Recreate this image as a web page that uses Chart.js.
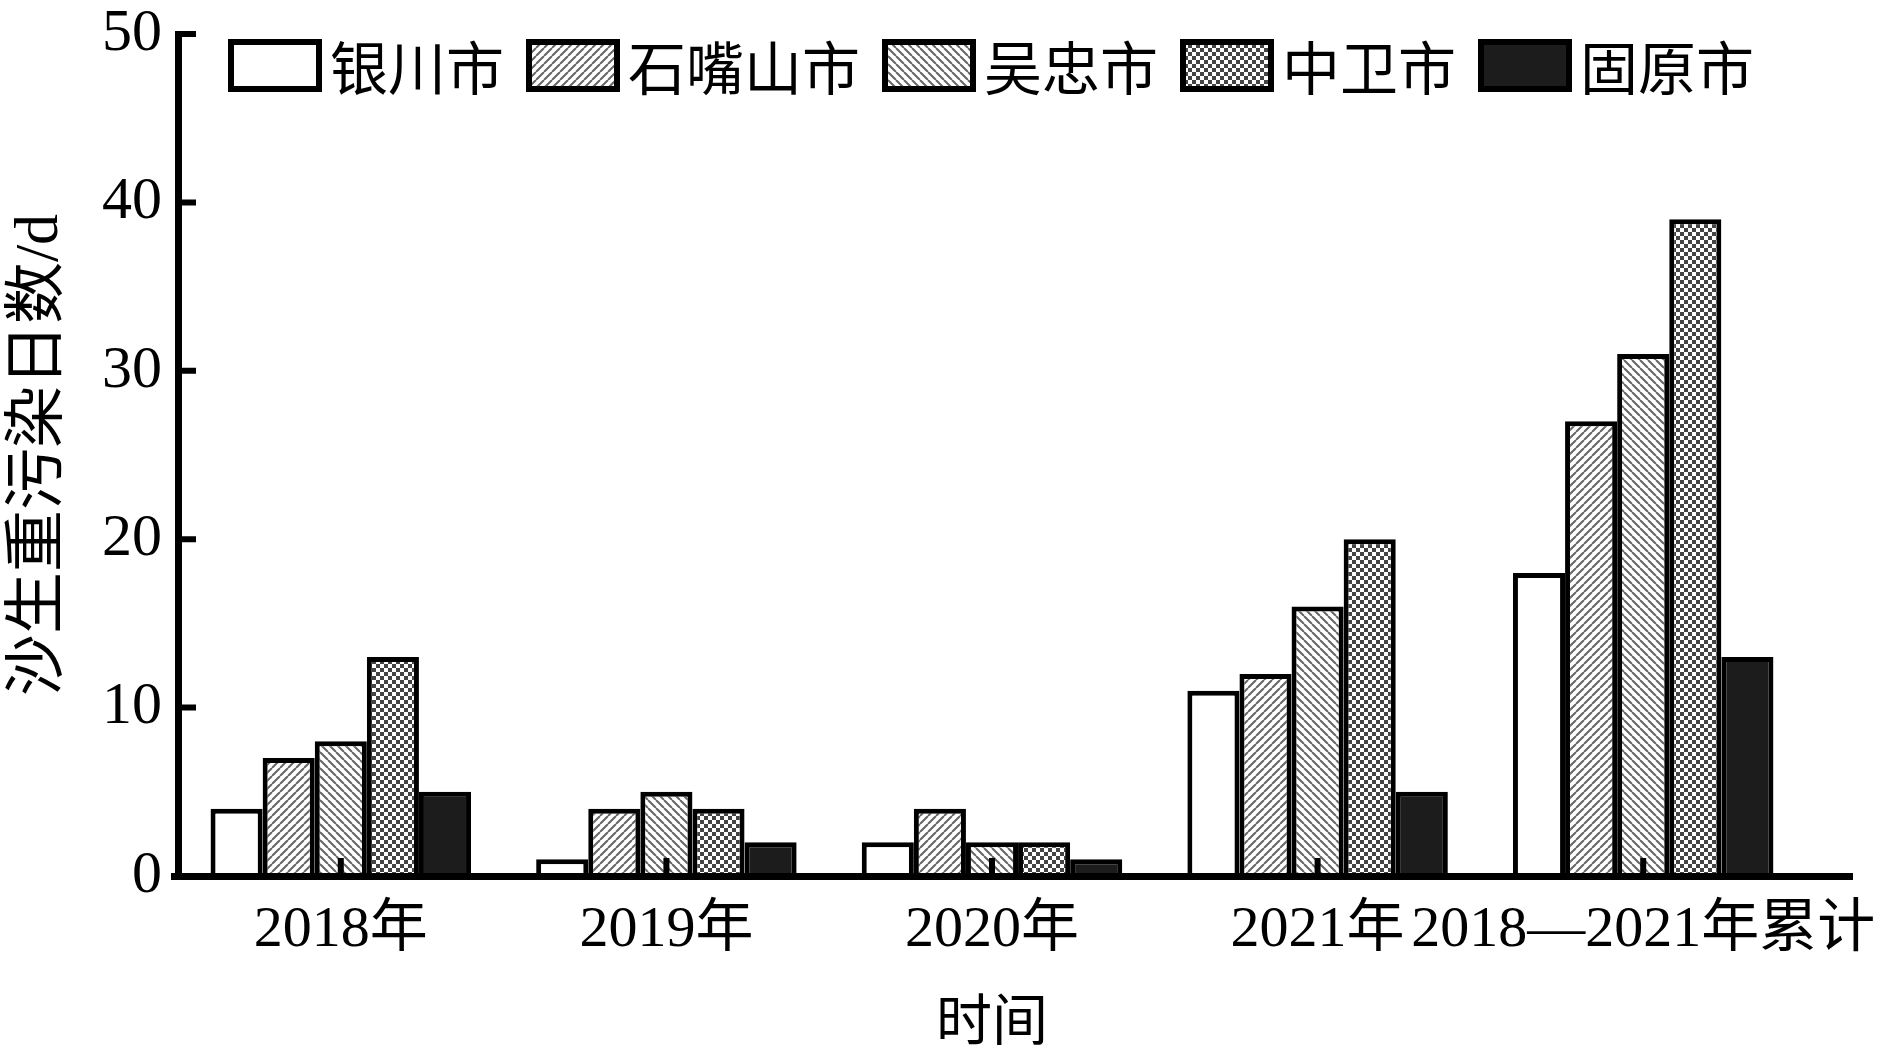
<!DOCTYPE html>
<html>
<head>
<meta charset="utf-8">
<script src="https://cdn.jsdelivr.net/npm/chart.js@4.4.0/dist/chart.umd.min.js"></script>
<style>
  html, body { margin: 0; padding: 0; background: #fff; }
  #wrap { width: 1890px; height: 1056px; }
</style>
</head>
<body>
<div id="wrap"><canvas id="chart"></canvas></div>
<script>
// categories and series (days)
const categories = ['2018年', '2019年', '2020年', '2021年', '2018—2021年累计'];
const cities = ['银川市', '石嘴山市', '吴忠市', '中卫市', '固原市'];
const yinchuan = [4, 1, 2, 11, 18];
const shizuishan = [7, 4, 4, 12, 27];
const wuzhong = [8, 5, 2, 16, 31];
const zhongwei = [13, 4, 2, 20, 39];
const guyuan = [5, 2, 1, 5, 13];
const yTicks = [0, 10, 20, 30, 40, 50];

const FONT = '"Liberation Serif", "Times New Roman", "Noto Sans CJK SC", serif';

// fill patterns
function hatch(dir) {
    const s = 8;
    const c = document.createElement('canvas');
    c.width = c.height = s;
    const g = c.getContext('2d');
    g.fillStyle = '#fff';
    g.fillRect(0, 0, s, s);
    g.strokeStyle = '#666';
    g.lineWidth = 2;
    g.beginPath();
    [-s, 0, s].forEach(k => {
        if (dir > 0) { g.moveTo(k, s); g.lineTo(k + s, 0); }
        else { g.moveTo(k, 0); g.lineTo(k + s, s); }
    });
    g.stroke();
    return g.createPattern(c, 'repeat');
}

function checker() {
    const s = 8;
    const c = document.createElement('canvas');
    c.width = c.height = s;
    const g = c.getContext('2d');
    g.fillStyle = '#fff';
    g.fillRect(0, 0, s, s);
    g.fillStyle = '#444';
    g.fillRect(0, 0, s / 2, s / 2);
    g.fillRect(s / 2, s / 2, s / 2, s / 2);
    return g.createPattern(c, 'repeat');
}

const fills = ['#ffffff', hatch(1), hatch(-1), checker(), '#1c1c1c'];
const series = [yinchuan, shizuishan, wuzhong, zhongwei, guyuan];

const datasets = cities.map((name, i) => ({
    label: name,
    data: series[i],
    backgroundColor: fills[i],
    borderColor: '#000',
    borderWidth: 5,
    borderSkipped: 'bottom',
    categoryPercentage: 0.8,
    barPercentage: 1.0
}));

// x axis line (runs a little past the last group), inward ticks, in-plot legend
const decor = {
    id: 'decor',
    afterDraw(chart) {
        const { ctx, chartArea: a, scales: { x, y } } = chart;
        const y0 = y.getPixelForValue(0);
        ctx.save();
        ctx.fillStyle = '#000';
        ctx.fillRect(a.left - 7, y0 - 3, a.right + 47 - (a.left - 7), 7);

        ctx.strokeStyle = '#000';
        ctx.lineWidth = 6;
        ctx.beginPath();
        y.ticks.forEach(t => {
            if (t.value === 0) return;
            const py = y.getPixelForValue(t.value);
            ctx.moveTo(a.left, py);
            ctx.lineTo(a.left + 18, py);
        });
        x.ticks.forEach((t, i) => {
            const px = x.getPixelForTick(i);
            ctx.moveTo(px, y0);
            ctx.lineTo(px, y0 - 18);
        });
        ctx.stroke();

        // legend
        let lx = 228;
        const top = 39, bw = 94, bh = 53;
        ctx.font = '58px "Noto Sans CJK SC", sans-serif';
        ctx.textBaseline = 'middle';
        ctx.textAlign = 'left';
        chart.data.datasets.forEach(ds => {
            ctx.fillStyle = ds.backgroundColor;
            ctx.fillRect(lx, top, bw, bh);
            ctx.lineWidth = 6;
            ctx.strokeRect(lx + 3, top + 3, bw - 6, bh - 6);
            ctx.fillStyle = '#000';
            ctx.fillText(ds.label, lx + bw + 8, top + bh / 2 + 2);
            lx += bw + 8 + ctx.measureText(ds.label).width + 22;
        });
        ctx.restore();
    }
};

new Chart(document.getElementById('chart'), {
    type: 'bar',
    data: { labels: categories, datasets: datasets },
    plugins: [decor],
    options: {
        responsive: true,
        maintainAspectRatio: false,
        animation: false,
        layout: { padding: { left: 0, top: 34, right: 84, bottom: 0 } },
        plugins: {
            legend: { display: false },
            tooltip: { enabled: false }
        },
        scales: {
            x: {
                grid: { display: false, drawTicks: false },
                border: { display: false },
                ticks: {
                    color: '#000',
                    font: { family: FONT, size: 58 },
                    padding: 20,
                    autoSkip: false,
                    maxRotation: 0,
                    minRotation: 0
                },
                title: {
                    display: true,
                    text: '时间',
                    color: '#000',
                    font: { family: '"Noto Sans CJK SC", sans-serif', size: 56 },
                    padding: { top: 0, bottom: 4 }
                },
                afterFit(scale) {
                    scale.height = 180;
                    scale.paddingLeft = 0;
                    scale.paddingRight = 0;
                }
            },
            y: {
                min: 0,
                max: 50,
                afterBuildTicks(scale) { scale.ticks = yTicks.map(v => ({ value: v })); },
                grid: { display: false, drawTicks: false },
                border: { display: true, color: '#000', width: 7, z: 1 },
                ticks: {
                    color: '#000',
                    font: { family: FONT, size: 60 },
                    padding: 16
                },
                title: {
                    display: true,
                    text: '沙生重污染日数/d',
                    color: '#000',
                    font: { family: FONT, size: 62 },
                    padding: { top: 4, bottom: 0 }
                },
                afterFit(scale) {
                    scale.width = 178;
                    scale.paddingTop = 0;
                    scale.paddingBottom = 0;
                }
            }
        }
    }
});
</script>
</body>
</html>
